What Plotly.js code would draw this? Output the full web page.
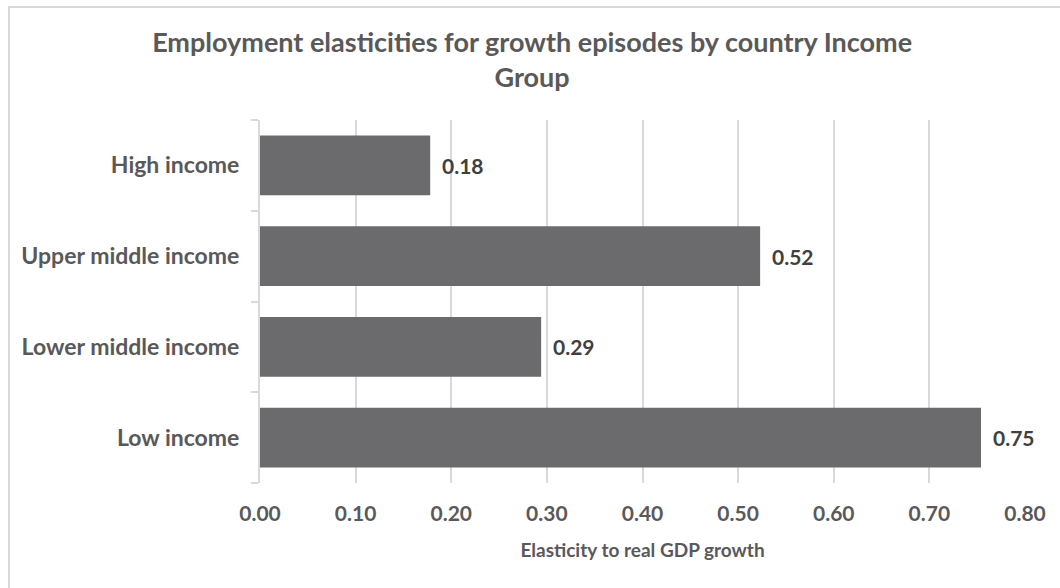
<!DOCTYPE html>
<html><head><meta charset="utf-8">
<script src="https://cdn.plot.ly/plotly-3.0.1.min.js"></script>
<style>
html,body{margin:0;padding:0;background:#fff;}
#wrap{position:relative;width:1060px;height:588px;}
#chart{position:absolute;left:0;top:0;width:1060px;height:588px;}
#frame{position:absolute;left:8px;top:6px;width:1060px;height:600px;border:2px solid #d9d9d9;box-sizing:border-box;pointer-events:none;}
</style></head>
<body><div id="wrap"><div id="chart"></div><div id="frame"></div></div>
<script>
const categories = ["Low income", "Lower middle income", "Upper middle income", "High income"];
const values = [0.754, 0.294, 0.523, 0.178];
const labels = ["0.75", "0.29", "0.52", "0.18"];
const xTicks = [0, 0.1, 0.2, 0.3, 0.4, 0.5, 0.6, 0.7, 0.8];
const xTickLabels = ["0.00", "0.10", "0.20", "0.30", "0.40", "0.50", "0.60", "0.70", "0.80"];

const FONT = "Lato, 'Open Sans', sans-serif";
const GREY = "#595959";

const trace = {
  type: "bar", orientation: "h",
  x: values, y: categories,
  marker: {color: "#6b6b6d", line: {width: 0}},
  hoverinfo: "skip"
};

const annotations = categories.map((c, i) => ({
  x: values[i], y: c, xref: "x", yref: "y",
  text: "<b>" + labels[i] + "</b>", showarrow: false,
  xanchor: "left", xshift: 10,
  font: {family: FONT, size: 21, color: "#404040"}
}));

const layout = {
  width: 1060, height: 588,
  margin: {l: 260, r: 35, t: 120, b: 105},
  paper_bgcolor: "#fff", plot_bgcolor: "#fff",
  showlegend: false,
  bargap: 0.34,
  font: {family: FONT, color: GREY},
  title: {
    text: "<b>Employment elasticities for growth episodes by country Income<br>Group</b>",
    x: 0.502, xanchor: "center", y: 0.912, yanchor: "top",
    font: {family: FONT, size: 27, color: GREY}
  },
  xaxis: {
    range: [0, 0.8], tickvals: xTicks, ticktext: xTickLabels,
    showgrid: true, gridcolor: "#d9d9d9", gridwidth: 2,
    zeroline: false, showline: false, ticks: "",
    tickfont: {family: FONT, size: 21, color: GREY},
    ticklabelstandoff: 16,
    title: {text: "<b>Elasticity to real GDP growth</b>", font: {family: FONT, size: 19, color: GREY}, standoff: 19},
    fixedrange: true
  },
  yaxis: {
    type: "category", categoryorder: "array", categoryarray: categories,
    showline: true, linecolor: "#d9d9d9", linewidth: 2,
    ticks: "outside", tickson: "boundaries", ticklen: 7, tickcolor: "#d9d9d9", tickwidth: 2,
    showgrid: false, zeroline: false,
    tickfont: {family: FONT, size: 23, color: GREY},
    ticklabelstandoff: 14,
    fixedrange: true
  },
  annotations: annotations
};

Plotly.newPlot("chart", [trace], layout, {displayModeBar: false, staticPlot: true}).then(() => {
  document.querySelectorAll(".xtick text, .ytick text").forEach(t => t.style.fontWeight = "bold");
});
</script></body></html>
